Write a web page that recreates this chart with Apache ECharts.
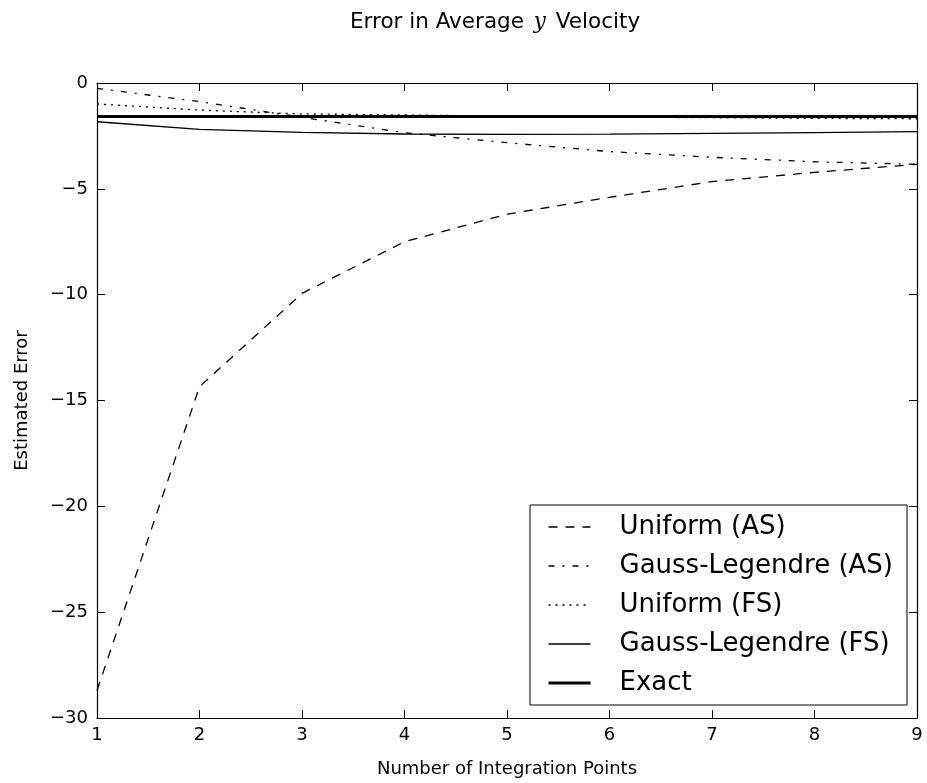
<!DOCTYPE html>
<html>
<head>
<meta charset="utf-8">
<title>Error in Average y Velocity</title>
<script src="https://cdn.jsdelivr.net/npm/echarts@6/dist/echarts.min.js"></script>
<style>
  html, body { margin: 0; padding: 0; background: #fff; }
  #chart { width: 927px; height: 783px; }
</style>
</head>
<body>
<div id="chart"></div>
<script>
// Number of integration points on the x axis
var points = [1, 2, 3, 4, 5, 6, 7, 8, 9];

// Estimated error for each quadrature scheme
var uniformAS = [-28.7, -14.35, -9.94, -7.50, -6.20, -5.40, -4.66, -4.22, -3.84];
var gaussAS   = [-0.25, -0.88, -1.62, -2.35, -2.82, -3.24, -3.51, -3.72, -3.84];
var uniformFS = [-0.99, -1.28, -1.46, -1.51, -1.57, -1.61, -1.64, -1.67, -1.69];
var gaussFS   = [-1.83, -2.19, -2.33, -2.41, -2.43, -2.42, -2.38, -2.34, -2.30];
var exact     = [-1.58, -1.58, -1.58, -1.58, -1.58, -1.58, -1.58, -1.58, -1.58];

var seriesNames = ['Uniform (AS)', 'Gauss-Legendre (AS)', 'Uniform (FS)', 'Gauss-Legendre (FS)', 'Exact'];

var yTicks = [0, -5, -10, -15, -20, -25, -30];

function pairs(vals) {
  return points.map(function (x, i) { return [x, vals[i]]; });
}

var FONT = 'DejaVu Sans';
var minusFmt = function (v) { return String(v).replace('-', '\u2212'); };

var tickStyle = { show: true, inside: true, length: 8, lineStyle: { color: '#000', width: 1 } };
var lineStyleAxis = { show: true, onZero: false, lineStyle: { color: '#000', width: 1.2 } };

// line width and dash pattern per series, shared by plot and legend
var styles = [
  { width: 1.3, type: [9, 8] },
  { width: 1.3, type: [6, 8, 2, 8] },
  { width: 1.3, type: [2, 5] },
  { width: 1.3, type: 'solid' },
  { width: 3, type: 'solid' }
];
var valueSets = [uniformAS, gaussAS, uniformFS, gaussFS, exact];

var chart = echarts.init(document.getElementById('chart'), null, { renderer: 'canvas' });

chart.setOption({
  backgroundColor: '#fff',
  animation: false,
  title: {
    text: 'Error in Average {m|y} Velocity',
    left: 345,
    top: 6,
    textStyle: {
      fontFamily: FONT,
      fontSize: 21.5,
      fontWeight: 'normal',
      color: '#000',
      rich: {
        m: { fontFamily: 'DejaVu Serif', fontStyle: 'italic', fontSize: 21.5, color: '#000', padding: [0, 3, 0, 3] }
      }
    }
  },
  grid: { left: 97, right: 10, top: 83, bottom: 65, containLabel: false },
  legend: {
    data: seriesNames.map(function (n, i) {
      return { name: n, lineStyle: { width: styles[i].width, type: styles[i].type, color: '#000' } };
    }),
    orient: 'vertical',
    left: 530,
    top: 505,
    itemWidth: 42,
    itemHeight: 20,
    itemGap: 9,
    padding: [7, 14, 7, 17],
    backgroundColor: '#fff',
    borderColor: '#000',
    borderWidth: 1,
    borderRadius: 0,
    selectedMode: false,
    itemStyle: { opacity: 0, borderWidth: 0 },
    textStyle: {
      fontFamily: FONT,
      fontSize: 26,
      color: '#000',
      lineHeight: 30,
      padding: [0, 0, 0, 24]
    }
  },
  xAxis: [
    {
      type: 'value',
      min: 1, max: 9, interval: 1,
      name: 'Number of Integration Points',
      nameLocation: 'middle',
      nameGap: 42,
      nameTextStyle: { fontFamily: FONT, fontSize: 18, color: '#000' },
      axisLine: lineStyleAxis,
      axisTick: tickStyle,
      splitLine: { show: false },
      axisLabel: { fontFamily: FONT, fontSize: 18, color: '#000', margin: 8 }
    },
    {
      type: 'value', position: 'top',
      min: 1, max: 9, interval: 1,
      axisLine: lineStyleAxis,
      axisTick: tickStyle,
      splitLine: { show: false },
      axisLabel: { show: false }
    }
  ],
  yAxis: [
    {
      type: 'value',
      min: -30, max: 0, interval: 5,
      name: 'Estimated Error',
      nameLocation: 'middle',
      nameGap: 66,
      nameRotate: 90,
      nameTextStyle: { fontFamily: FONT, fontSize: 18, color: '#000' },
      axisLine: lineStyleAxis,
      axisTick: tickStyle,
      splitLine: { show: false },
      axisLabel: {
        fontFamily: FONT, fontSize: 18, color: '#000', margin: 9,
        formatter: function (v) { return yTicks.indexOf(v) >= 0 ? minusFmt(v) : ''; }
      }
    },
    {
      type: 'value', position: 'right',
      min: -30, max: 0, interval: 5,
      axisLine: lineStyleAxis,
      axisTick: tickStyle,
      splitLine: { show: false },
      axisLabel: { show: false }
    }
  ],
  series: seriesNames.map(function (n, i) {
    return {
      name: n,
      type: 'line',
      data: pairs(valueSets[i]),
      showSymbol: false,
      symbol: 'none',
      animation: false,
      silent: true,
      lineStyle: { color: '#000', width: styles[i].width, type: styles[i].type, cap: 'butt' },
      itemStyle: { color: '#000' }
    };
  })
});
</script>
</body>
</html>
